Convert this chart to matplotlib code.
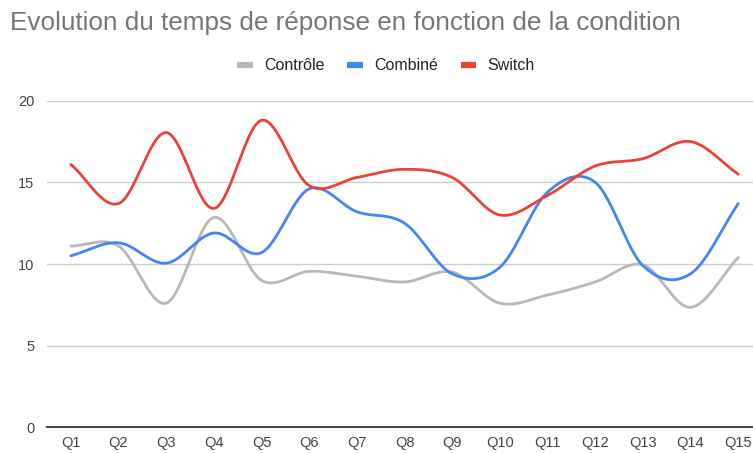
import matplotlib
matplotlib.use("Agg")
import matplotlib.pyplot as plt
from matplotlib.lines import Line2D
import numpy as np

plt.rcParams['font.family'] = ['Liberation Sans', 'DejaVu Sans']

questions = ["Q1", "Q2", "Q3", "Q4", "Q5", "Q6", "Q7", "Q8",
             "Q9", "Q10", "Q11", "Q12", "Q13", "Q14", "Q15"]
controle = [11.1, 11.1, 7.6, 12.85, 9.0, 9.55, 9.25, 8.9,
            9.5, 7.6, 8.1, 8.9, 9.95, 7.35, 10.4]
combine = [10.5, 11.3, 10.05, 11.9, 10.7, 14.6, 13.2, 12.5,
           9.4, 9.8, 14.4, 15.0, 9.9, 9.4, 13.7]
switch = [16.1, 13.7, 18.05, 13.4, 18.8, 14.8, 15.3, 15.8,
          15.3, 13.0, 14.2, 16.0, 16.45, 17.5, 15.5]

series = [("Contrôle", controle, "#b7b7b7"),
          ("Combiné", combine, "#4285f4"),
          ("Switch", switch, "#ea4335")]


def smooth(values, steps=30):
    """Catmull-Rom curve through every point, like a 'function' curve type."""
    y = np.asarray(values, dtype=float)
    n = len(y)
    slopes = np.zeros(n)
    slopes[1:-1] = (y[2:] - y[:-2]) / 2.0
    slopes[0] = y[1] - y[0]
    slopes[-1] = y[-1] - y[-2]
    xs, ys = [], []
    for i in range(n - 1):
        t = np.linspace(0, 1, steps, endpoint=False)
        h00 = 2 * t**3 - 3 * t**2 + 1
        h10 = t**3 - 2 * t**2 + t
        h01 = -2 * t**3 + 3 * t**2
        h11 = t**3 - t**2
        xs.append(i + t)
        ys.append(h00 * y[i] + h10 * slopes[i] + h01 * y[i + 1] + h11 * slopes[i + 1])
    xs.append([n - 1])
    ys.append([y[-1]])
    return np.concatenate(xs), np.concatenate(ys)


fig = plt.figure(figsize=(7.53, 4.53), dpi=100)
ax = fig.add_axes([0.0624, 0.0567, 0.9376, 0.721])

x = np.arange(len(questions))
for name, vals, color in series:
    sx, sy = smooth(vals)
    ax.plot(sx, sy, color=color, lw=2.0, solid_capstyle="round", zorder=3)

ax.set_xlim(-0.5, 14.31)
ax.set_ylim(0, 20)
ax.set_yticks([0, 5, 10, 15, 20])
ax.set_xticks(x)
ax.set_xticklabels(questions)
ax.grid(axis="y", color="#cccccc", lw=1.0)
ax.set_axisbelow(True)
for side in ["top", "right", "left"]:
    ax.spines[side].set_visible(False)
ax.spines["bottom"].set_color("#333333")
ax.spines["bottom"].set_linewidth(1.3)
ax.spines["bottom"].set_zorder(4)
ax.tick_params(axis="both", length=0, labelsize=10.5, labelcolor="#444444")
ax.tick_params(axis="y", pad=9)
ax.tick_params(axis="x", pad=6)
for lbl in ax.get_yticklabels():
    lbl.set_ha("right")

fig.text(0.013, 1 - 23 / 453, "Evolution du temps de réponse en fonction de la condition",
         fontsize=18.8, color="#757575", ha="left", va="center")

handles = [Line2D([0], [0], color=c, lw=4.5, solid_capstyle="butt") for _, _, c in series]
fig.legend(handles, [s[0] for s in series], loc="center", ncol=3,
           bbox_to_anchor=(386 / 753, 1 - 66 / 453), frameon=False,
           fontsize=11.5, labelcolor="#222222", handlelength=1.0,
           handletextpad=0.7, columnspacing=1.4)

fig.savefig("out.png", dpi=100)
